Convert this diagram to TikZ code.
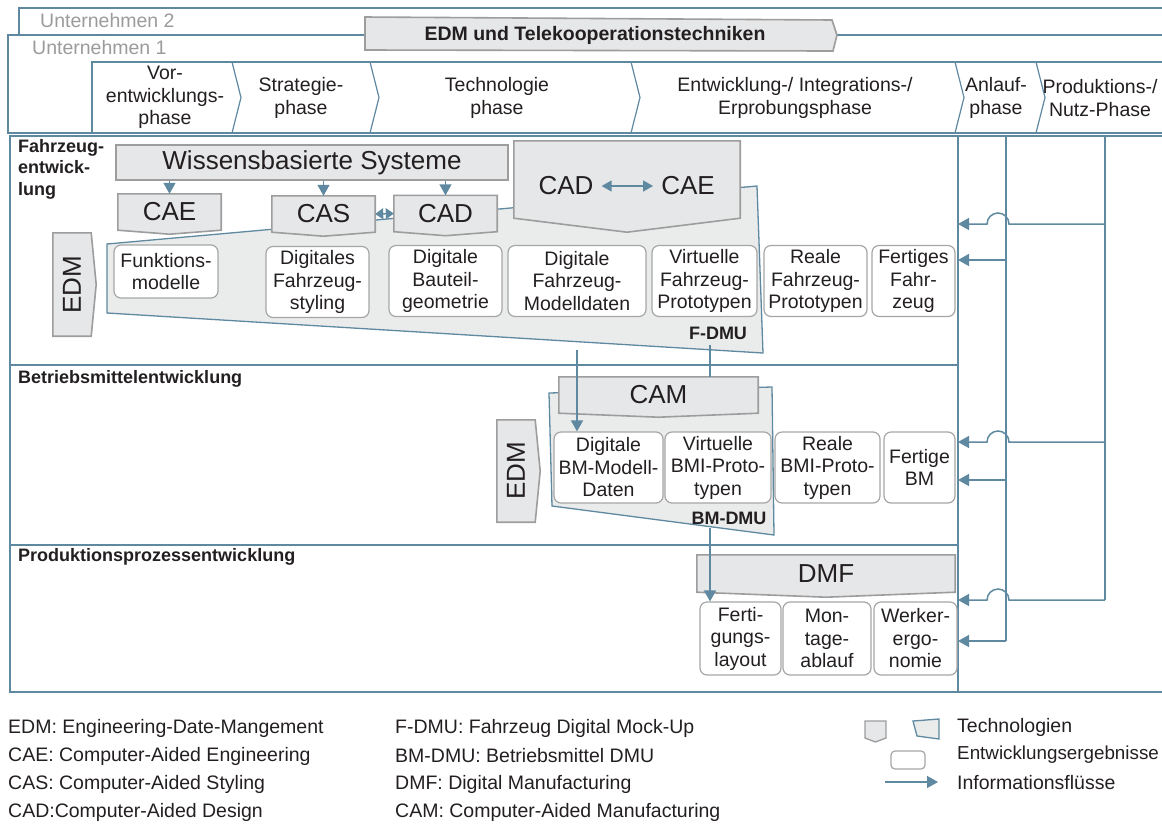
\documentclass[tikz,border=0pt]{standalone}
\usepackage{fontspec}
\setmainfont{Liberation Sans}
\usepackage{graphicx}
\usetikzlibrary{arrows.meta,positioning,calc}
\pgfdeclarelayer{back}
\pgfdeclarelayer{mid}
\pgfsetlayers{back,mid,main}

\definecolor{linie}{RGB}{95,137,160}
\definecolor{techgrau}{RGB}{230,231,232}
\definecolor{techrand}{RGB}{157,157,157}
\definecolor{boxrand}{RGB}{166,166,166}
\definecolor{schrift}{RGB}{35,31,32}
\definecolor{blass}{RGB}{155,155,155}

\newcommand{\txtsize}{\fontsize{19.5}{22.5}\selectfont}
\newcommand{\bigsize}{\fontsize{26}{28}\selectfont}
\newcommand{\lblsize}{\fontsize{18}{21.5}\selectfont}

\begin{document}
\begin{tikzpicture}[x=1pt, y=-1pt, every node/.style={inner sep=0pt, text=schrift, font=\txtsize}]
\tikzset{lane/.style={draw=linie, line width=1.6pt}}
\tikzset{techform/.style={draw=techrand, fill=techgrau, line width=1.6pt}}
\tikzset{tech/.style={font=\bigsize, minimum height=36pt}}
\tikzset{ergebnis/.style={draw=boxrand, line width=1.2pt, fill=white, rounded corners=7pt, align=center, minimum height=71pt}}
\tikzset{dmu/.style={draw=linie, line width=1.3pt, fill=techgrau!85!white}}
\tikzset{flow/.style={draw=linie, line width=1.5pt, -{Triangle[length=11pt, width=12pt]}}}
\tikzset{lbl/.style={font=\bfseries\lblsize, align=left}}
\useasboundingbox (0,0) rectangle (1162,823);

% frames, phases, lanes
\begin{pgfonlayer}{back}
\draw[lane, line width=1.2pt] (19,60) -- (19,8) -- (1162,8);
\draw[lane, fill=white] (1162,35) -- (8,35) -- (8,133) -- (1162,133);
\draw[lane, line width=1.2pt] (92,133) -- (92,62) -- (1162,62);
\foreach \x in {232,370,631,955,1036}
  \draw[lane, line width=1.2pt] (\x,62) -- (\x+9,97.5) -- (\x,133);
\draw[lane] (10,136) rectangle (958,692);
\draw[lane] (10,365) -- (958,365);
\draw[lane] (10,545) -- (958,545);
\draw[lane] (958,136) -- (1162,136);
\draw[lane] (958,692) -- (1162,692);
\filldraw[dmu] (107,244) -- (757,186) -- (763,353) -- (107,313) -- cycle;
\filldraw[dmu] (549,393) -- (772,387) -- (774,535) -- (552,506) -- cycle;
\end{pgfonlayer}

\node[text=blass, anchor=west] (u2) at (40,21) {Unternehmen 2};
\node[text=blass, anchor=west] (u1) at (32,48) {Unternehmen 1};
\node[font=\bfseries\txtsize] (edmtk) at (595,35) {EDM und Telekooperationstechniken};

\node[align=center] (p1) at (165,97.5) {Vor-\\entwicklungs-\\phase};
\node[align=center] (p2) at (301,98) {Strategie-\\phase};
\node[align=center] (p3) at (497,98) {Technologie\\phase};
\node[align=center] (p4) at (795,98) {Entwicklung-/ Integrations-/\\Erprobungsphase};
\node[align=center] (p5) at (996,98) {Anlauf-\\phase};
\node[align=center] (p6) at (1100,98) {Produktions-/\\Nutz-Phase};

\node[lbl, anchor=north west] (fzlbl) at (18,139) {Fahrzeug-\\entwick-\\lung};
\node[lbl, anchor=west] (bmlbl) at (18,379) {Betriebsmittelentwicklung};
\node[lbl, anchor=west] (pplbl) at (18,557) {Produktionsprozessentwicklung};

% Fahrzeugentwicklung
\node[draw=techrand, fill=techgrau, line width=1.6pt, minimum width=392pt, minimum height=35pt, font=\bigsize] (wbs) at (312,162.5) {Wissensbasierte Systeme};
\node[tech, minimum width=103pt] (cae) at (169.5,212) {CAE};
\node[tech, minimum width=103pt] (cas) at (323.5,214) {CAS};
\node[tech, minimum width=103pt] (cad) at (445.5,213.5) {CAD};
\node[tech, minimum width=226pt, minimum height=77pt] (cadcae) at (627,179.5) {};
\node[tech] (cadtxt) at (566,186) {CAD};
\node[tech] (caetxt) at (688,186) {CAE};
\node[tech, minimum width=38pt, minimum height=103pt] (edmf) at (72,284.5) {\rotatebox{90}{EDM}};

\node[ergebnis, minimum width=104pt, minimum height=53pt] (funk) at (166,271.5) {Funktions-\\modelle};
\node[ergebnis, minimum width=103pt] (styl) at (317.5,282) {Digitales\\Fahrzeug-\\styling};
\node[ergebnis, minimum width=113pt] (geo) at (445.5,281) {Digitale\\Bauteil-\\geometrie};
\node[ergebnis, minimum width=138pt] (modell) at (577,281) {Digitale\\Fahrzeug-\\Modelldaten};
\node[ergebnis, minimum width=105pt] (virt) at (704.5,281) {Virtuelle\\Fahrzeug-\\Prototypen};
\node[ergebnis, minimum width=103pt] (real) at (815.5,281) {Reale\\Fahrzeug-\\Prototypen};
\node[ergebnis, minimum width=83pt] (fert) at (913.5,281) {Fertiges\\Fahr-\\zeug};
\node[font=\bfseries\lblsize] (fdmu) at (718,333) {F-DMU};

% Betriebsmittelentwicklung
\node[tech, minimum width=199pt] (cam) at (658.5,395) {CAM};
\node[tech, minimum width=38pt, minimum height=102pt] (edmb) at (516,471) {\rotatebox{90}{EDM}};
\node[ergebnis, minimum width=109pt] (bmdig) at (608.5,467.5) {Digitale\\BM-Modell-\\Daten};
\node[ergebnis, minimum width=106pt] (bmvirt) at (718,467.5) {Virtuelle\\BMI-Proto-\\typen};
\node[ergebnis, minimum width=105pt] (bmreal) at (827.5,467.5) {Reale\\BMI-Proto-\\typen};
\node[ergebnis, minimum width=71pt] (bmfert) at (919.5,467.5) {Fertige\\BM};
\node[font=\bfseries\lblsize] (bmdmu) at (729,518) {BM-DMU};

% Produktionsprozessentwicklung
\node[tech, minimum width=258pt, minimum height=37pt] (dmf) at (826,573.5) {DMF};
\node[ergebnis, minimum width=81pt, minimum height=73pt] (ferti) at (740.5,638.5) {Ferti-\\gungs-\\layout};
\node[ergebnis, minimum width=88pt, minimum height=73pt] (montage) at (827,638.5) {Mon-\\tage-\\ablauf};
\node[ergebnis, minimum width=83pt, minimum height=73pt] (werker) at (915.5,638.5) {Werker-\\ergo-\\nomie};

\begin{pgfonlayer}{mid}
\filldraw[techform] (365,17) -- (832,20) -- (837,35) -- (833,51) -- (365,50) -- cycle;
\foreach \n/\d in {cae/4,cas/4,cad/4,cadcae/14,cam/4,dmf/5}
  \filldraw[techform] (\n.north west) -- (\n.north east) -- (\n.south east) -- ([yshift=-\d pt]\n.south) -- (\n.south west) -- cycle;
\foreach \n in {edmf,edmb}
  \filldraw[techform] (\n.north west) -- (\n.north east) -- ([xshift=5pt]\n.east) -- (\n.south east) -- (\n.south west) -- cycle;
\end{pgfonlayer}

% Informationsfluesse
\foreach \n in {cae,cas,cad}
  \draw[flow] (wbs.south -| \n.north) -- (\n.north);
\draw[flow, {Triangle[length=8pt, width=11pt]}-{Triangle[length=8pt, width=11pt]}] (cas.east) -- (cad.west);
\draw[flow, {Triangle[length=10pt, width=11pt]}-{Triangle[length=10pt, width=11pt]}] (cadtxt.east) ++(8,0) coordinate (cadr) (caetxt.west) ++(-8,0) coordinate (cael) (cadr) -- (cael);
\coordinate (fdmuab) at (577,350);
\coordinate (fdmuan) at (710,345);
\coordinate (bmdmuab) at (710,528);
\draw[flow] (fdmuab) -- (fdmuab |- bmdig.north);
\draw[draw=linie, line width=1.5pt] (fdmuan) -- (fdmuan |- cam.north);
\draw[flow] (bmdmuab) -- (bmdmuab |- ferti.north);

\coordinate (va) at (1006,136);
\coordinate (vb) at (1105,136);
\draw[draw=linie, line width=1.5pt] (va) -- (1006,641);
\draw[draw=linie, line width=1.5pt] (vb) -- (1105,600);
\foreach \h/\s in {224/260, 442/480, 600/641} {
  \draw[flow] (1105,\h) -- (1009,\h) arc[start angle=0, end angle=180, radius=11pt] -- (958,\h);
  \draw[flow] (1006,\s) -- (958,\s);
}

% Legende
\foreach \t [count=\i] in {EDM: Engineering-Date-Mangement, CAE: Computer-Aided Engineering, CAS: Computer-Aided Styling, CAD:Computer-Aided Design}
  \node[anchor=west] (lga\i) at (8,700+28*\i) {\t};
\foreach \t [count=\i] in {F-DMU: Fahrzeug Digital Mock-Up, BM-DMU: Betriebsmittel DMU, DMF: Digital Manufacturing, CAM: Computer-Aided Manufacturing}
  \node[anchor=west] (lgb\i) at (395,700+28*\i) {\t};
\filldraw[techform, line width=1.3pt] (865,721) -- (886,721) -- (886,738) -- (875.5,742) -- (865,738) -- cycle;
\filldraw[dmu] (913,721) -- (939,719) -- (939,739) -- (917,736) -- cycle;
\node[draw=boxrand, line width=1.2pt, rounded corners=4pt, minimum width=34pt, minimum height=18pt] (lgbox) at (908,760) {};
\coordinate (lgpa) at (885,782);
\coordinate (lgpe) at (938,782);
\draw[flow] (lgpa) -- (lgpe);
\node[anchor=west] (lgt1) at (957,727) {Technologien};
\node[anchor=west, font=\fontsize{18.8}{22}\selectfont] (lgt2) at (957,755) {Entwicklungsergebnisse};
\node[anchor=west] (lgt3) at (957,783) {Informationsflüsse};
\end{tikzpicture}
\end{document}
